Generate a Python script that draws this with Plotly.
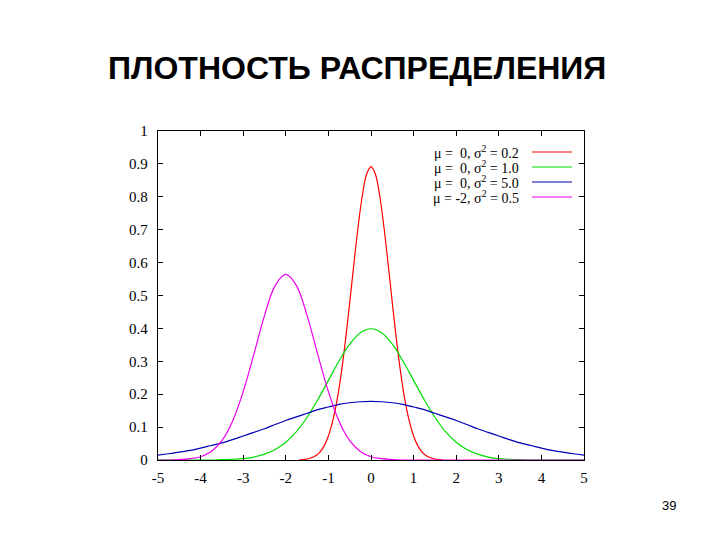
import plotly.graph_objects as go

# ---- data ----
x_red = [-1.7, -1.6, -1.5, -1.4, -1.3, -1.2, -1.1, -1.0, -0.9, -0.8, -0.7, -0.6, -0.5, -0.4, -0.3, -0.2, -0.1,
         0.0, 0.1, 0.2, 0.3, 0.4, 0.5, 0.6, 0.7, 0.8, 0.9, 1.0, 1.1, 1.2, 1.3, 1.4, 1.5, 1.6, 1.7]
y_red = [0.000, 0.001, 0.003, 0.007, 0.013, 0.024, 0.043, 0.073, 0.118, 0.180, 0.262, 0.363, 0.478, 0.598, 0.712, 0.807, 0.870,
         0.892, 0.870, 0.807, 0.712, 0.598, 0.478, 0.363, 0.262, 0.180, 0.118, 0.073, 0.043, 0.024, 0.013, 0.007, 0.003, 0.001, 0.000]

x_grid = [-5.0, -4.75, -4.5, -4.25, -4.0, -3.75, -3.5, -3.25, -3.0, -2.75, -2.5, -2.25, -2.0, -1.75, -1.5, -1.25, -1.0,
          -0.75, -0.5, -0.25, 0.0, 0.25, 0.5, 0.75, 1.0, 1.25, 1.5, 1.75, 2.0, 2.25, 2.5, 2.75, 3.0, 3.25, 3.5,
          3.75, 4.0, 4.25, 4.5, 4.75, 5.0]
y_green = [0.000, 0.000, 0.000, 0.000, 0.000, 0.000, 0.001, 0.002, 0.004, 0.009, 0.018, 0.032, 0.054, 0.086, 0.130, 0.183, 0.242,
           0.301, 0.352, 0.387, 0.399, 0.387, 0.352, 0.301, 0.242, 0.183, 0.130, 0.086, 0.054, 0.032, 0.018, 0.009, 0.004, 0.002, 0.001,
           0.000, 0.000, 0.000, 0.000, 0.000, 0.000]
y_blue = [0.015, 0.019, 0.024, 0.029, 0.036, 0.044, 0.052, 0.062, 0.073, 0.084, 0.095, 0.108, 0.120, 0.131, 0.142, 0.153, 0.161,
          0.169, 0.174, 0.177, 0.178, 0.177, 0.174, 0.169, 0.161, 0.153, 0.142, 0.131, 0.120, 0.108, 0.095, 0.084, 0.073, 0.062, 0.052,
          0.044, 0.036, 0.029, 0.024, 0.019, 0.015]
y_magenta = [0.000, 0.000, 0.001, 0.004, 0.010, 0.026, 0.059, 0.118, 0.208, 0.321, 0.439, 0.530, 0.564, 0.530, 0.439, 0.321, 0.208,
             0.118, 0.059, 0.026, 0.010, 0.004, 0.001, 0.000, 0.000, 0.000, 0.000, 0.000, 0.000, 0.000, 0.000, 0.000, 0.000, 0.000, 0.000,
             0.000, 0.000, 0.000, 0.000, 0.000, 0.000]

series_names = ["μ =  0, σ<sup>2</sup> = 0.2", "μ =  0, σ<sup>2</sup> = 1.0",
                "μ =  0, σ<sup>2</sup> = 5.0", "μ = -2, σ<sup>2</sup> = 0.5"]
series_colors = ["#ff0000", "#00dd00", "#0000b4", "#ee00ee"]

x_ticks = [-5, -4, -3, -2, -1, 0, 1, 2, 3, 4, 5]
y_ticks = [0, 0.1, 0.2, 0.3, 0.4, 0.5, 0.6, 0.7, 0.8, 0.9, 1]
y_tick_labels = ["0", "0.1", "0.2", "0.3", "0.4", "0.5", "0.6", "0.7", "0.8", "0.9", "1"]

title_text = "ПЛОТНОСТЬ РАСПРЕДЕЛЕНИЯ"
page_number = "39"

# ---- layout geometry (page pixels; the page body has an 8px margin) ----
OFF = 8
plot_left, plot_right, plot_top, plot_bottom = 158, 584, 131, 460
L = plot_left - OFF
R = 720 - (plot_right - OFF)
T = plot_top - OFF
B = 540 - (plot_bottom - OFF)
pw = plot_right - plot_left
ph = plot_bottom - plot_top

def px(xp):
    return (xp - plot_left) / pw

def py(yp):
    return (plot_bottom - yp) / ph

fig = go.Figure()
all_x = [x_red, x_grid, x_grid, x_grid]
all_y = [y_red, y_green, y_blue, y_magenta]
for xs, ys, name, col in zip(all_x, all_y, series_names, series_colors):
    fig.add_trace(go.Scatter(x=xs, y=ys, mode="lines", name=name,
                             line=dict(color=col, width=1.2, shape="spline", smoothing=1.0),
                             showlegend=False))

# legend (text on the left, sample line on the right, as in gnuplot)
row_y = [152, 167, 182, 197]
for name, col, yy in zip(series_names, series_colors, row_y):
    fig.add_annotation(x=px(521), y=py(yy), xref="paper", yref="paper", text=name,
                       showarrow=False, xanchor="right", yanchor="middle",
                       font=dict(family="Liberation Serif", size=14, color="black"))
    fig.add_shape(type="line", xref="paper", yref="paper", x0=px(532), x1=px(572),
                  y0=py(yy), y1=py(yy), line=dict(color=col, width=1.2))

fig.add_annotation(x=px(357), y=py(68), xref="paper", yref="paper", text="<b>" + title_text + "</b>",
                   showarrow=False, xanchor="center", yanchor="middle",
                   font=dict(family="Liberation Sans", size=32, color="black"))

fig.add_annotation(x=px(669), y=py(505), xref="paper", yref="paper", text=page_number,
                   showarrow=False, xanchor="center", yanchor="middle",
                   font=dict(family="Liberation Sans", size=13, color="black"))

axis_common = dict(showline=True, linecolor="black", linewidth=1.3, mirror="ticks",
                   ticks="inside", ticklen=5, tickwidth=1, tickcolor="black",
                   showgrid=False, zeroline=False,
                   tickfont=dict(family="Liberation Serif", size=15, color="black"))

fig.update_xaxes(range=[-5, 5], tickvals=x_ticks, ticktext=[str(v) for v in x_ticks],
                 ticklabelstandoff=4, **axis_common)
fig.update_yaxes(range=[0, 1], tickvals=y_ticks, ticktext=y_tick_labels,
                 ticklabelstandoff=6, **axis_common)

fig.update_layout(width=720, height=540, margin=dict(l=L, r=R, t=T, b=B),
                  paper_bgcolor="white", plot_bgcolor="white", showlegend=False)

fig.write_html("out.html")
